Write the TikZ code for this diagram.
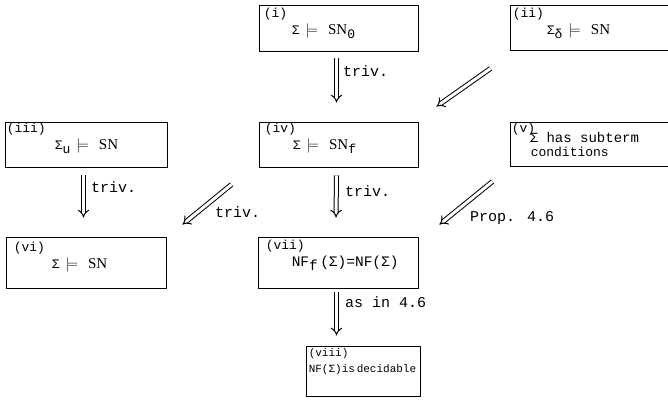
\documentclass[tikz,border=0pt]{standalone}
\usepackage{fontspec}
\usetikzlibrary{arrows.meta,calc}
\newfontfamily\tw{Liberation Mono}
\newfontfamily\rmx{Liberation Serif}
\newcommand{\lowr}[1]{\raisebox{-0.6ex}{#1}}
\newcommand{\mdl}{\hspace{6pt}{\fontsize{15}{15}\selectfont$\models$}\hspace{10pt}}
\newcommand{\snx}{{\rmx\fontsize{15}{15}\selectfont SN}}
\begin{document}
\begin{tikzpicture}[x=1pt,y=-1pt,
  box/.style={draw, line width=0.9pt, inner sep=0pt},
  txt/.style={anchor=north west, align=left, inner sep=0pt, font=\tw\fontsize{13}{17}\selectfont},
  lab/.style={anchor=west, inner sep=0pt, font=\tw\fontsize{15}{16}\selectfont},
  imp/.style={double, double distance=3pt, line width=1pt, -{Implies[length=5pt]}}]
\useasboundingbox (0,0) rectangle (668,408);
% boxes
\node[box, minimum width=159pt, minimum height=46pt] (i) at (338.5,28) {};
\node[box, minimum width=162pt, minimum height=45pt] (ii) at (591,27.5) {};
\node[box, minimum width=162pt, minimum height=45pt] (iii) at (86,144.5) {};
\node[box, minimum width=159pt, minimum height=45pt] (iv) at (338.5,144.5) {};
\node[box, minimum width=162pt, minimum height=44pt] (v) at (591,144) {};
\node[box, minimum width=160pt, minimum height=51pt] (vi) at (86,262.5) {};
\node[box, minimum width=160pt, minimum height=51pt] (vii) at (338,262.5) {};
\node[box, minimum width=114pt, minimum height=50pt] (viii) at (363,371) {};
% texts
\node[txt] (ti) at ($(i.north west)+(5,3)$) {(i)\\\hspace*{28pt}Σ\mdl\snx\lowr{0}};
\node[txt] (tii) at ($(ii.north west)+(3,3)$) {(ii)\\\hspace*{34pt}Σ\lowr{δ}\mdl\snx};
\node[txt] (tiii) at ($(iii.north west)+(2,1)$) {(iii)\\\hspace*{48pt}Σ\lowr{u}\mdl\snx};
\node[txt] (tiv) at ($(iv.north west)+(6,1)$) {(iv)\\\hspace*{28pt}Σ\mdl\snx\lowr{f}};
\node[txt, font=\tw\fontsize{13}{12}\selectfont] (tv) at ($(v.north west)+(2,1)$) {(v)\\[-4pt]\hspace*{18pt}{\fontsize{14}{12}\selectfont Σ has subterm}\\[2pt]\hspace*{19pt}conditions};
\node[txt] (tvi) at ($(vi.north west)+(8,5)$) {(vi)\\\hspace*{38pt}Σ\mdl\snx};
\node[txt] (tvii) at ($(vii.north west)+(8,3)$) {(vii)\\\hspace*{26pt}{\fontsize{14.5}{17}\selectfont NF\lowr{f}\,(Σ)=NF(Σ)}};
\node[txt, font=\tw\fontsize{11}{16}\selectfont] (tviii) at ($(viii.north west)+(3,3)$) {(viii)\\NF(Σ)is\,decidable};
% arrows
\draw[imp] ($(i.south)+(-2,7)$) -- ($(iv.north)+(-2,-19)$);
\node[lab] (l1) at (343,71) {triv.};
\draw[imp] ($(ii.south west)+(-19,18)$) -- ($(iv.north east)+(18,-15)$);
\draw[imp] ($(iii.south)+(-2.5,8)$) -- ($(vi.north)+(-2.5,-19)$);
\node[lab] (l2) at (91,187) {triv.};
\draw[imp] ($(iv.south west)+(-27,17)$) -- ($(vi.north east)+(16,-12)$);
\node[lab] (l3) at (215,212) {triv.};
\draw[imp] ($(iv.south)+(-2,8)$) -- ($(vii.north)+(-2,-19)$);
\node[lab] (l4) at (345,191) {triv.};
\draw[imp] ($(v.south west)+(-17,15)$) -- ($(vii.north east)+(21,-12)$);
\node[lab] (l5) at (470,218) {Prop. 4.6};
\draw[imp] ($(vii.south)+(-1.5,4)$) -- ($(vii.south)+(-1.5,47)$);
\node[lab] (l6) at (345,302) {as in 4.6};
\end{tikzpicture}
\end{document}
